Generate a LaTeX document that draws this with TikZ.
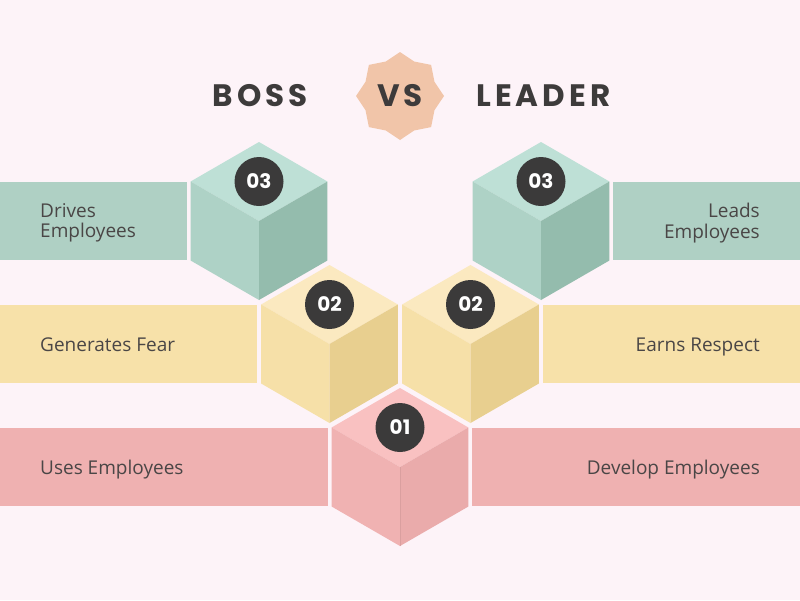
\documentclass[tikz,border=0pt]{standalone}
\usepackage{fontspec}
\setmainfont{Open Sans}
\newfontfamily\titlefont[LetterSpace=13]{Poppins}
\newfontfamily\numfont{Poppins}
\definecolor{bgpink}{RGB}{253, 243, 248}
\definecolor{inkgray}{RGB}{74, 70, 70}
\definecolor{titlegray}{RGB}{61, 59, 59}
\definecolor{badgedark}{RGB}{59, 58, 58}
\definecolor{starpeach}{RGB}{241, 197, 169}
% mint row
\definecolor{barmint}{RGB}{175, 208, 196}
\definecolor{topmint}{RGB}{190, 224, 214}
\definecolor{leftmint}{RGB}{174, 210, 198}
\definecolor{rightmint}{RGB}{148, 188, 173}
% sand row
\definecolor{barsand}{RGB}{247, 225, 169}
\definecolor{topsand}{RGB}{251, 233, 192}
\definecolor{leftsand}{RGB}{246, 224, 168}
\definecolor{rightsand}{RGB}{232, 207, 143}
% rose row
\definecolor{barrose}{RGB}{239, 177, 177}
\definecolor{toprose}{RGB}{249, 193, 193}
\definecolor{leftrose}{RGB}{240, 178, 178}
\definecolor{rightrose}{RGB}{234, 171, 171}
\usepackage{tikz}
\usetikzlibrary{shapes.geometric, positioning}

\begin{document}
\begin{tikzpicture}[x=1pt, y=-1pt,
    bartext/.style={font=\fontsize{19}{20.5}\selectfont, text=inkgray, inner sep=0},
    badge/.style={circle, fill=badgedark, text=white, minimum size=49, inner sep=0,
      font=\numfont\bfseries\fontsize{20}{20}\selectfont},
    titletext/.style={font=\titlefont\bfseries\fontsize{31}{31}\selectfont,
      text=titlegray, inner sep=0}]
  \fill[bgpink] (0,0) rectangle (800,600);
  % Title
  \node[star, star points=8, star point ratio=1.18, minimum size=88, inner sep=0,
        fill=starpeach, titletext] (vs) at (400,96) {VS};
  \node[titletext, anchor=east] (boss) at (308,96) {BOSS};
  \node[titletext, anchor=west] (leader) at (476,96) {LEADER};
  % Side bars
  \foreach \tone/\y/\xl/\xr in {mint/221/187/613, sand/344/257/543, rose/467/328/472} {
    \fill[bar\tone] (0,\y-39) rectangle (\xl,\y+39);
    \fill[bar\tone] (\xr,\y-39) rectangle (800,\y+39);
  }
  % Cubes
  \foreach \nm/\cx/\cy/\tone/\num in {c3l/259/221/mint/03, c3r/541/221/mint/03,
      c2l/329.5/344/sand/02, c2r/470.5/344/sand/02, c1/400/467/rose/01} {
    \fill[top\tone] (\cx,\cy-79) -- (\cx+68.4,\cy-39.5) -- (\cx,\cy)
      -- (\cx-68.4,\cy-39.5) -- cycle;
    \fill[left\tone] (\cx-68.4,\cy-39.5) -- (\cx,\cy) -- (\cx,\cy+79)
      -- (\cx-68.4,\cy+39.5) -- cycle;
    \fill[right\tone] (\cx,\cy) -- (\cx+68.4,\cy-39.5) -- (\cx+68.4,\cy+39.5)
      -- (\cx,\cy+79) -- cycle;
    \node[badge] (\nm) at (\cx,\cy-39.5) {\num};
  }
  \draw[rightrose!93!black, line width=0.7] (400,467) -- (400,546);
  % Left labels
  \node[bartext, anchor=west, align=left] (drives) at (40,223) {Drives\\Employees};
  \node[bartext, anchor=base west] (fear) at (40,351) {Generates Fear};
  \node[bartext, anchor=base west] (uses) at (40,474) {Uses Employees};
  % Right labels
  \node[bartext, anchor=east, align=right] (leads) at (760,223) {Leads\\Employees};
  \node[bartext, anchor=base east] (respect) at (760,351) {Earns Respect};
  \node[bartext, anchor=base east] (develop) at (760,474) {Develop Employees};
\end{tikzpicture}
\end{document}
